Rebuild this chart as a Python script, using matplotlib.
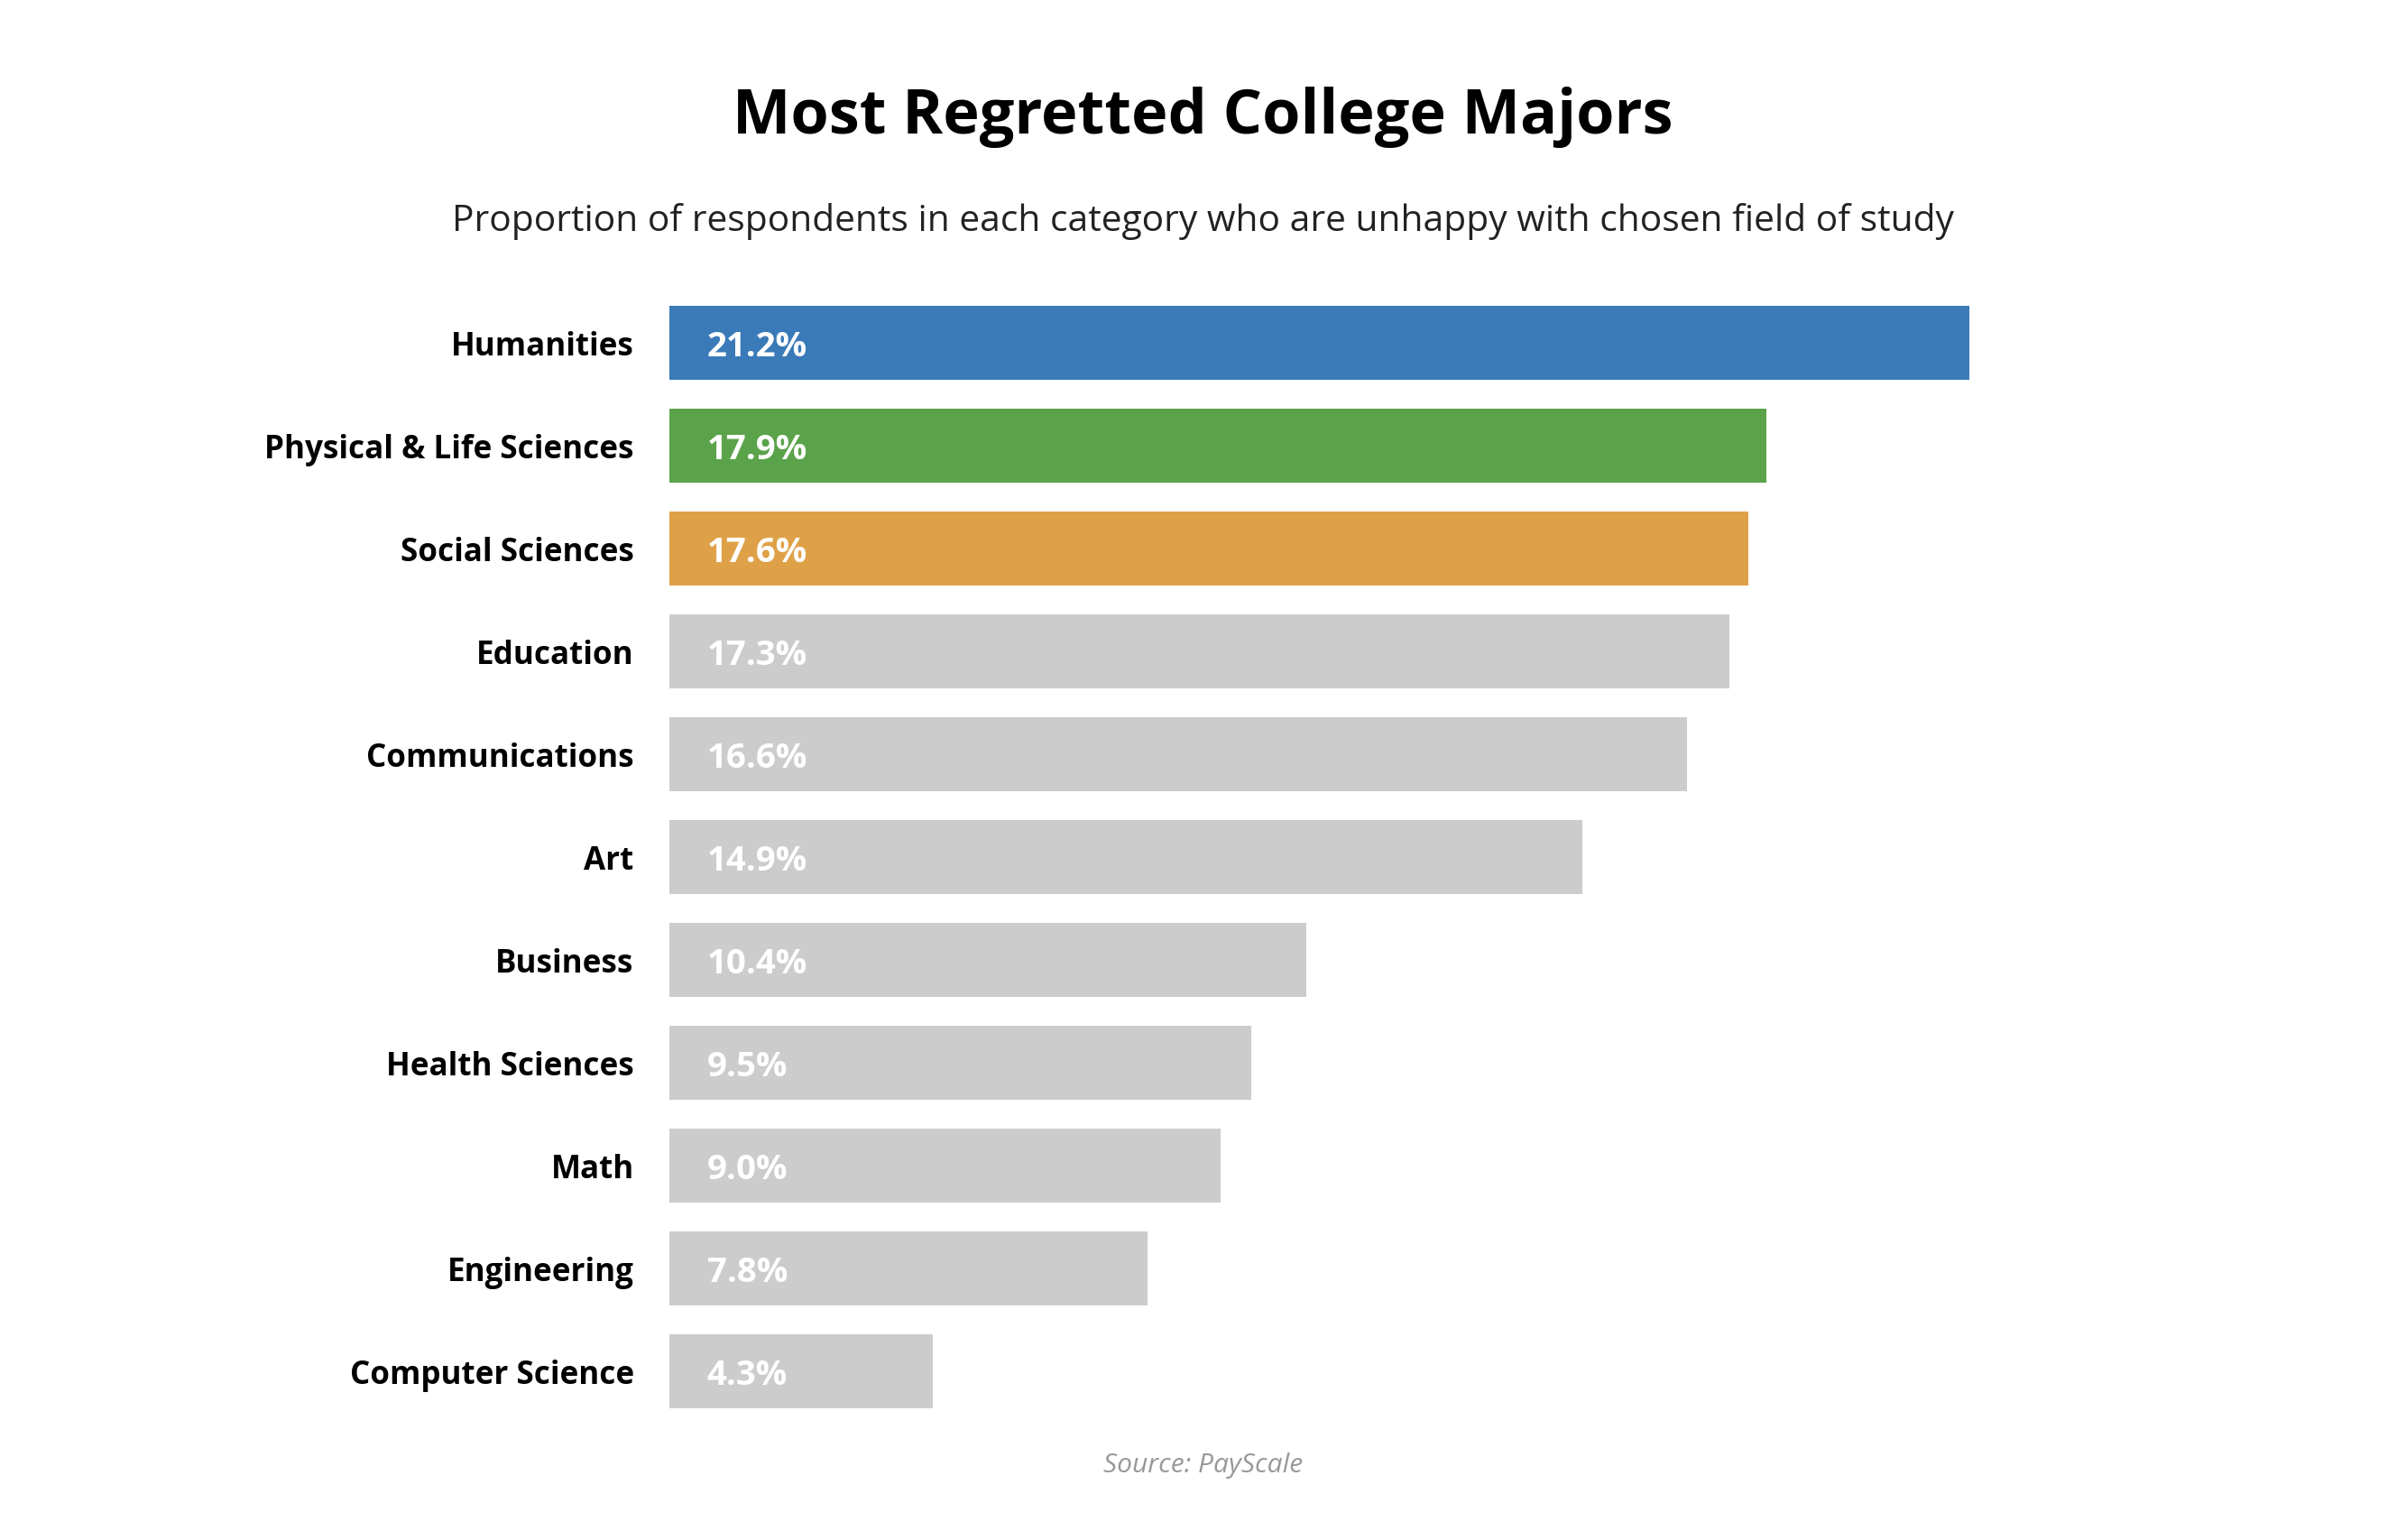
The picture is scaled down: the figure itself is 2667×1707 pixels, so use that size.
import matplotlib
matplotlib.use("Agg")
import matplotlib.pyplot as plt

categories = ["Humanities", "Physical & Life Sciences", "Social Sciences", "Education",
              "Communications", "Art", "Business", "Health Sciences", "Math",
              "Engineering", "Computer Science"]
values = [21.2, 17.9, 17.6, 17.3, 16.6, 14.9, 10.4, 9.5, 9.0, 7.8, 4.3]
highlight_colors = {"Humanities": "#3a7ab8", "Physical & Life Sciences": "#5ba34b",
                    "Social Sciences": "#dfa148"}
default_color = "#cccccc"

plt.rcParams['font.family'] = ['Open Sans', 'DejaVu Sans']

fig = plt.figure(figsize=(2667/200, 1708/200), dpi=200)
ax = fig.add_axes([741.6/2667, 1-1577.7/1708, (2182.5-741.6)/2667, (1577.7-324)/1708])

ys = list(range(len(categories)))
colors = [highlight_colors.get(c, default_color) for c in categories]
ax.barh(ys, values, height=0.72, color=colors, left=0)
ax.set_xlim(0, max(values))
ax.set_ylim(len(categories)-0.5, -0.5)
ax.set_yticks(ys)
ax.set_yticklabels(categories, fontsize=12.6, fontweight='bold', color='black')
ax.tick_params(axis='y', length=0, pad=14)
ax.set_xticks([])
for s in ax.spines.values():
    s.set_visible(False)

for y, v in zip(ys, values):
    ax.text(0.62, y, f"{v:.1f}%", ha='left', va='center_baseline', color='white',
            fontsize=13.8, fontweight='bold')

fig.text(0.5, 1-130/1708, "Most Regretted College Majors", ha='center', va='center',
         fontsize=24.6, fontweight='bold', color='black')
fig.text(0.5, 1-245/1708, "Proportion of respondents in each category who are unhappy with chosen field of study",
         ha='center', va='center', fontsize=14.7, color='#222222')
fig.text(0.5, 1-1625/1708, "Source: PayScale", ha='center', va='center', fontsize=10.8,
         style='italic', color='#999999')

fig.savefig("out.png", dpi=200, facecolor='white')
